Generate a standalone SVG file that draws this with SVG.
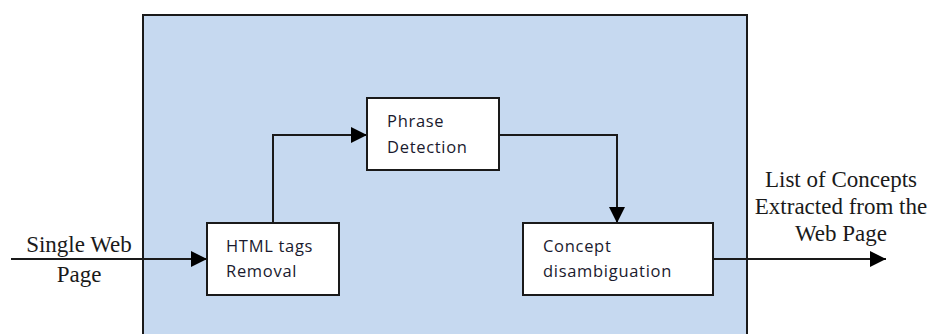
<svg xmlns="http://www.w3.org/2000/svg" width="933" height="334" viewBox="0 0 933 334">
<style>
.box{fill:#ffffff;stroke:#1a1a1a;stroke-width:2}
.lbl{font-family:"Open Sans","Liberation Sans",sans-serif;font-size:16.5px;fill:#1a1a2e;letter-spacing:0.7px}
.ext{font-family:"Liberation Serif","Times New Roman",serif;font-size:23px;fill:#1a1a1a;text-anchor:middle}
.line{fill:none;stroke:#1a1a1a;stroke-width:2}
</style>
<defs>
<marker id="arr" viewBox="0 0 16 16" refX="16" refY="8" markerWidth="16" markerHeight="16" markerUnits="userSpaceOnUse" orient="auto">
<path d="M0,0 L16,8 L0,16 Z" fill="#000"/>
</marker>
</defs>
<rect width="933" height="334" fill="#ffffff"/>
<g id="container">
<rect x="143" y="15" width="604" height="340" fill="#c6d9f0" stroke="#1a1a1a" stroke-width="2"/>
</g>
<g id="connectors">
<line class="line" x1="11" y1="259" x2="207" y2="259" marker-end="url(#arr)"/>
<polyline class="line" points="273,223 273,135 367,135" marker-end="url(#arr)"/>
<polyline class="line" points="499,135 617,135 617,223" marker-end="url(#arr)"/>
<line class="line" x1="713" y1="259" x2="886" y2="259" marker-end="url(#arr)"/>
</g>
<g id="html-tags-removal">
<rect class="box" x="207" y="223" width="132" height="72"/>
<text class="lbl" x="226" y="252">HTML tags</text>
<text class="lbl" x="226" y="277">Removal</text>
</g>
<g id="phrase-detection">
<rect class="box" x="367" y="98" width="132" height="72"/>
<text class="lbl" x="387" y="127">Phrase</text>
<text class="lbl" x="387" y="153">Detection</text>
</g>
<g id="concept-disambiguation">
<rect class="box" x="523" y="223" width="190" height="72"/>
<text class="lbl" x="543" y="252">Concept</text>
<text class="lbl" x="543" y="277">disambiguation</text>
</g>
<g id="input-label">
<text class="ext" x="79" y="252">Single Web</text>
<text class="ext" x="79" y="282">Page</text>
</g>
<g id="output-label">
<text class="ext" x="841" y="187">List of Concepts</text>
<text class="ext" x="841" y="214">Extracted from the</text>
<text class="ext" x="841" y="241">Web Page</text>
</g>
</svg>
